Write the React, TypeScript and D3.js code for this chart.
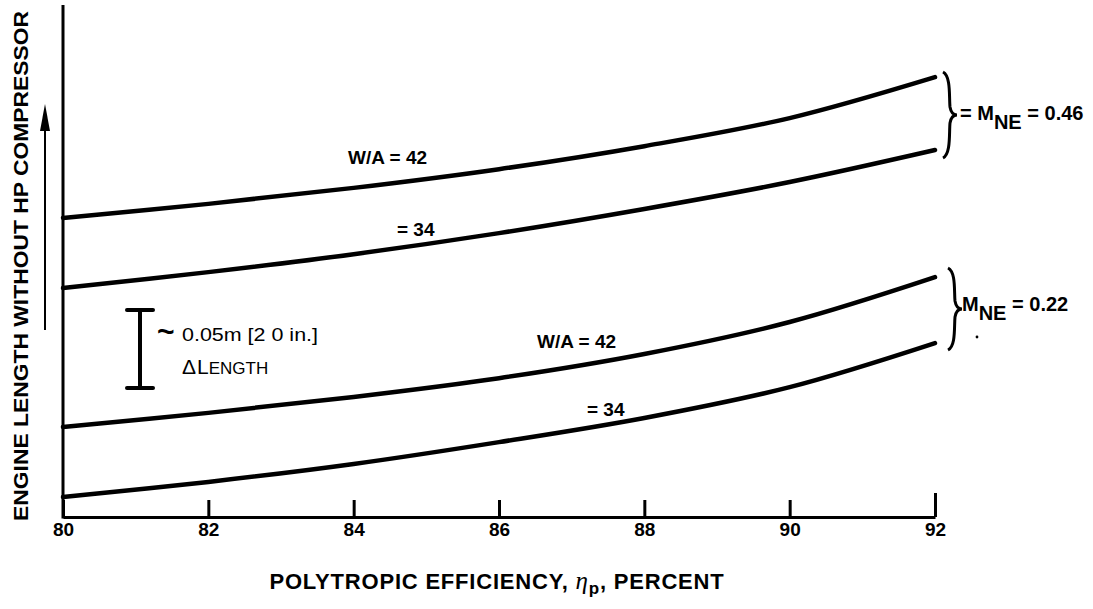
import React, { useEffect, useRef } from "react";
import * as d3 from "d3";

// polytropic efficiency, percent
const efficiency = [80, 82, 84, 86, 88, 90, 92];
const xTicks = [80, 82, 84, 86, 88, 90, 92];

// relative engine length (inches above the axis baseline)
const lenM46WA42 = [7.67, 8.03, 8.44, 8.92, 9.51, 10.23, 11.28];
const lenM46WA34 = [5.87, 6.28, 6.74, 7.28, 7.9, 8.59, 9.41];
const lenM22WA42 = [2.31, 2.67, 3.08, 3.56, 4.18, 5.0, 6.15];
const lenM22WA34 = [0.51, 0.9, 1.36, 1.92, 2.54, 3.33, 4.46];

// scale bar: 0.05 m (2.0 in.)
const barBottom = 3.31;
const barLength = 2.0;

export default function App() {
  const svgRef = useRef(null);

  useEffect(() => {
    const width = 1093;
    const height = 609;
    const left = 63;
    const right = 935;
    const top = 5;
    const bottom = 517;

    const font = "'Liberation Sans', Arial, sans-serif";

    const x = d3.scaleLinear().domain([80, 92]).range([left, right]);
    const y = d3.scaleLinear().domain([0, 13.13]).range([bottom, top]);

    const svg = d3.select(svgRef.current)
      .attr("width", width)
      .attr("height", height)
      .attr("viewBox", [0, 0, width, height])
      .style("display", "block")
      .style("background", "#fff");

    svg.selectAll("*").remove();

    // x axis with inward ticks
    const xAxis = svg.append("g")
      .attr("transform", `translate(0,${bottom})`)
      .call(d3.axisBottom(x).tickValues(xTicks).tickSizeInner(-17).tickSizeOuter(0).tickPadding(6));
    xAxis.select(".domain").attr("stroke", "#000").attr("stroke-width", 3);
    xAxis.selectAll(".tick line")
      .attr("stroke", "#000")
      .attr("stroke-width", 3)
      .attr("y2", d => d === 92 ? -24 : -17);
    xAxis.selectAll(".tick text")
      .attr("fill", "#000")
      .attr("font-family", font)
      .attr("font-weight", "bold")
      .attr("font-size", 19);

    // y axis line (no ticks)
    svg.append("line")
      .attr("x1", left).attr("x2", left)
      .attr("y1", top).attr("y2", bottom + 1.5)
      .attr("stroke", "#000")
      .attr("stroke-width", 3);

    // curves
    const line = d3.line()
      .x((d, i) => x(efficiency[i]))
      .y(d => y(d))
      .curve(d3.curveCatmullRom.alpha(0.5));

    [lenM46WA42, lenM46WA34, lenM22WA42, lenM22WA34].forEach(series => {
      svg.append("path")
        .attr("d", line(series))
        .attr("fill", "none")
        .attr("stroke", "#000")
        .attr("stroke-width", 4.5)
        .attr("stroke-linecap", "round");
    });

    const label = (tx, ty, text, size = 19) => svg.append("text")
      .attr("x", tx)
      .attr("y", ty)
      .attr("font-family", font)
      .attr("font-weight", "bold")
      .attr("font-size", size)
      .text(text);

    label(348, 164, "W/A = 42");
    label(397, 236, "= 34");
    label(537, 348, "W/A = 42");
    label(587, 416, "= 34");

    // braces
    const brace = (xb, y0, y1) => {
      const ym = (y0 + y1) / 2;
      const w = 8;
      return `M${xb},${y0} C${xb + w},${y0 + 4} ${xb + w - 2},${ym - 18} ${xb + w - 1},${ym - 8}
        C${xb + w},${ym - 2} ${xb + w + 3},${ym} ${xb + w + 6},${ym}
        C${xb + w + 3},${ym} ${xb + w},${ym + 2} ${xb + w - 1},${ym + 8}
        C${xb + w - 2},${ym + 18} ${xb + w},${y1 - 4} ${xb},${y1}`;
    };
    svg.append("path")
      .attr("d", brace(943, 72, 158))
      .attr("fill", "none").attr("stroke", "#000").attr("stroke-width", 3);
    svg.append("path")
      .attr("d", brace(948, 268, 350))
      .attr("fill", "none").attr("stroke", "#000").attr("stroke-width", 3);

    const mach = (tx, ty, prefix, value) => {
      const t = svg.append("text")
        .attr("x", tx).attr("y", ty)
        .attr("font-family", font)
        .attr("font-weight", "bold")
        .attr("font-size", 20);
      if (prefix) t.append("tspan").text(prefix);
      t.append("tspan").text("M");
      t.append("tspan").attr("dy", 9).text("NE");
      t.append("tspan").attr("dy", -9).text(" = " + value);
    };
    mach(960, 120, "= ", "0.46");
    mach(962, 311, "", "0.22");
    svg.append("circle").attr("cx", 977).attr("cy", 337).attr("r", 1.4).attr("fill", "#000");

    // scale bar
    const bx = 140;
    const yTop = y(barBottom + barLength);
    const yBot = y(barBottom);
    svg.append("line")
      .attr("x1", bx).attr("x2", bx).attr("y1", yTop).attr("y2", yBot)
      .attr("stroke", "#000").attr("stroke-width", 4);
    [yTop, yBot].forEach(yy => {
      svg.append("line")
        .attr("x1", bx - 13).attr("x2", bx + 13).attr("y1", yy).attr("y2", yy)
        .attr("stroke", "#000").attr("stroke-width", 4).attr("stroke-linecap", "round");
    });
    svg.append("text")
      .attr("x", 157).attr("y", 342)
      .attr("font-family", font)
      .attr("font-weight", "bold")
      .attr("font-size", 30)
      .text("~");
    svg.append("text")
      .attr("x", 182).attr("y", 341)
      .attr("font-family", font)
      .attr("font-size", 18)
      .attr("textLength", 136)
      .attr("lengthAdjust", "spacingAndGlyphs")
      .text("0.05m [2 0 in.]");
    const dl = svg.append("text")
      .attr("x", 182).attr("y", 374)
      .attr("font-family", font)
      .attr("font-size", 21);
    dl.append("tspan").text("\u0394");
    dl.append("tspan").attr("dx", 1).text("L");
    dl.append("tspan").attr("font-size", 17).text("ENGTH");

    // y axis title + arrow
    svg.append("text")
      .attr("transform", "translate(28,266) rotate(-90)")
      .attr("text-anchor", "middle")
      .attr("font-family", font)
      .attr("font-weight", "bold")
      .attr("font-size", 20)
      .attr("textLength", 510)
      .attr("lengthAdjust", "spacingAndGlyphs")
      .text("ENGINE LENGTH WITHOUT HP COMPRESSOR");

    svg.append("line")
      .attr("x1", 45).attr("x2", 45).attr("y1", 330).attr("y2", 125)
      .attr("stroke", "#000").attr("stroke-width", 2);
    svg.append("path")
      .attr("d", "M45,104 L40,131 L50,131 Z")
      .attr("fill", "#000");

    // x axis title
    const xt = svg.append("text")
      .attr("x", 497).attr("y", 589)
      .attr("text-anchor", "middle")
      .attr("font-family", font)
      .attr("font-weight", "bold")
      .attr("font-size", 22)
      .attr("letter-spacing", 0.8);
    xt.append("tspan").text("POLYTROPIC EFFICIENCY, ");
    xt.append("tspan").attr("font-style", "italic").attr("font-weight", "normal").attr("font-family", "'Liberation Serif', serif").attr("font-size", 25).text("\u03B7");
    xt.append("tspan").attr("dy", 5).attr("font-size", 17).text("p");
    xt.append("tspan").attr("dy", -5).text(", PERCENT");

    return () => {
      d3.select(svgRef.current).selectAll("*").remove();
    };
  }, []);

  return (
    <div style={{ position: "absolute", left: 0, top: 0 }}>
      <svg ref={svgRef} />
    </div>
  );
}
